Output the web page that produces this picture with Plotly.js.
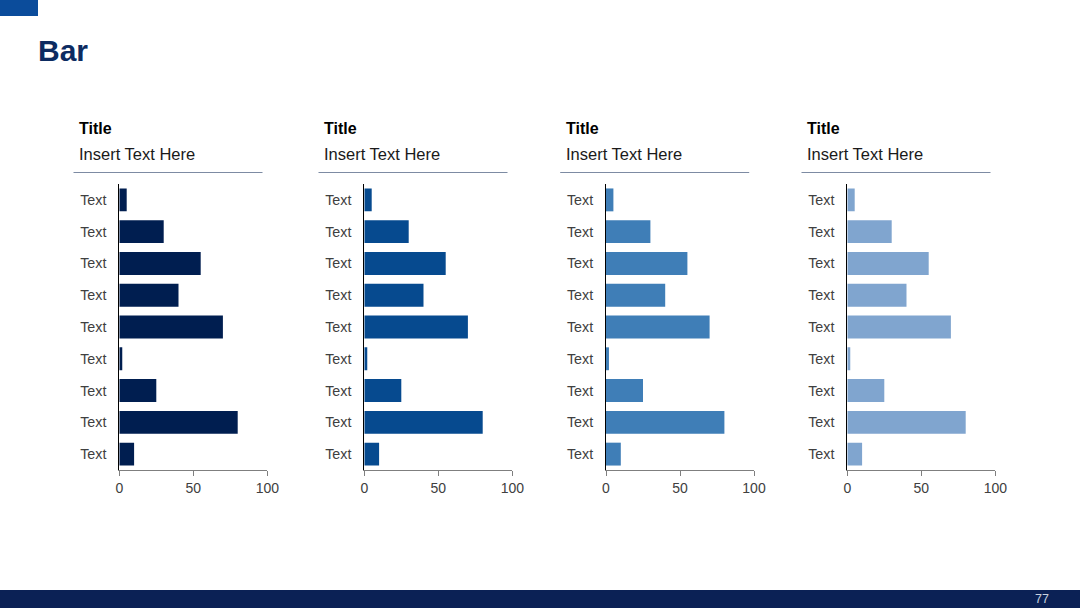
<!DOCTYPE html>
<html>
<head>
<meta charset="utf-8">
<script src="https://cdn.plot.ly/plotly-3.0.1.min.js"></script>
<style>html,body{margin:0;padding:0;background:#fff;}#chart{width:1080px;height:608px;}</style>
</head>
<body>
<div id="chart"></div>
<script>
// Data
const categories = ["Text","Text","Text","Text","Text","Text","Text","Text","Text"];
const values1 = [5, 30, 55, 40, 70, 2, 25, 80, 10];
const values2 = [5, 30, 55, 40, 70, 2, 25, 80, 10];
const values3 = [5, 30, 55, 40, 70, 2, 25, 80, 10];
const values4 = [5, 30, 55, 40, 70, 2, 25, 80, 10];
const panelTitles = ["Title", "Title", "Title", "Title"];
const panelSubtitles = ["Insert Text Here", "Insert Text Here", "Insert Text Here", "Insert Text Here"];
const xTickVals = [0, 50, 100];
const pageTitle = "Bar";
const pageNumber = "77";

const W = 1080, H = 608;
const px = v => v / W;
const py = v => 1 - v / H;

const series = [values1, values2, values3, values4];
const colors = ["#001E50", "#064A8F", "#3F7EB7", "#80A5CF"];
const xStarts = [119.3, 364.3, 606, 847.3];
const plotW = 148;
const yTop = 184, yBot = 470;

const positions = categories.map((c, i) => i);

const data = [];
const layout = {
  width: W, height: H,
  margin: {l: 0, r: 0, t: 0, b: 0},
  paper_bgcolor: "#ffffff",
  plot_bgcolor: "rgba(0,0,0,0)",
  showlegend: false,
  bargap: 0.28,
  font: {family: "Liberation Sans, Arial, sans-serif", color: "#404040", size: 14},
  shapes: [],
  annotations: []
};

series.forEach((vals, k) => {
  const sx = k === 0 ? "" : String(k + 1);
  data.push({
    type: "bar",
    orientation: "h",
    x: vals,
    y: positions,
    xaxis: "x" + sx,
    yaxis: "y" + sx,
    marker: {color: colors[k]},
    hoverinfo: "x"
  });
  layout["xaxis" + sx] = {
    domain: [px(xStarts[k]), px(xStarts[k] + plotW)],
    anchor: "y" + sx,
    range: [0, 100],
    tickvals: xTickVals,
    ticks: "outside",
    ticklen: 5,
    tickcolor: "#7f7f7f",
    showline: true,
    linecolor: "#7f7f7f",
    linewidth: 1,
    showgrid: false,
    zeroline: false,
    tickfont: {size: 14, color: "#404040"},
    fixedrange: true
  };
  layout["yaxis" + sx] = {
    domain: [py(yBot), py(yTop)],
    anchor: "x" + sx,
    range: [categories.length - 0.5, -0.5],
    tickvals: positions,
    ticktext: categories,
    ticks: "",
    ticklabelstandoff: 9,
    showline: true,
    linecolor: "#000000",
    linewidth: 1,
    showgrid: false,
    zeroline: false,
    tickfont: {size: 14.3, color: "#404040"},
    fixedrange: true
  };
  const tx = xStarts[k] - 40.3;
  layout.annotations.push({
    xref: "paper", yref: "paper", x: px(tx - 2), y: py(128),
    xanchor: "left", yanchor: "middle", showarrow: false,
    text: "<b>" + panelTitles[k] + "</b>",
    font: {size: 16, color: "#000000", family: "Liberation Sans, Arial, sans-serif"}
  });
  layout.annotations.push({
    xref: "paper", yref: "paper", x: px(tx - 2), y: py(154),
    xanchor: "left", yanchor: "middle", showarrow: false,
    text: panelSubtitles[k],
    font: {size: 16.5, color: "#1a1a1a", family: "Liberation Sans, Arial, sans-serif"}
  });
  layout.shapes.push({
    type: "line", xref: "paper", yref: "paper",
    x0: px(tx - 5.5), x1: px(tx + 183.5), y0: py(172.5), y1: py(172.5),
    line: {color: "#7d8ba3", width: 1.2}
  });
});

// Header decorations
layout.shapes.push({
  type: "rect", xref: "paper", yref: "paper",
  x0: 0, x1: px(38), y0: py(16), y1: 1,
  fillcolor: "#0B4C9B", line: {width: 0}
});
layout.shapes.push({
  type: "rect", xref: "paper", yref: "paper",
  x0: 0, x1: 1, y0: 0, y1: py(590),
  fillcolor: "#0B2155", line: {width: 0}
});
layout.annotations.push({
  xref: "paper", yref: "paper", x: px(36), y: py(51),
  xanchor: "left", yanchor: "middle", showarrow: false,
  text: "<b>" + pageTitle + "</b>",
  font: {size: 30, color: "#0C2B61", family: "Liberation Sans, Arial, sans-serif"}
});
layout.annotations.push({
  xref: "paper", yref: "paper", x: px(1051), y: py(599),
  xanchor: "right", yanchor: "middle", showarrow: false,
  text: pageNumber,
  font: {size: 12.5, color: "#c9d1de", family: "Liberation Sans, Arial, sans-serif"}
});

Plotly.newPlot("chart", data, layout, {displayModeBar: false, staticPlot: true});
</script>
</body>
</html>
